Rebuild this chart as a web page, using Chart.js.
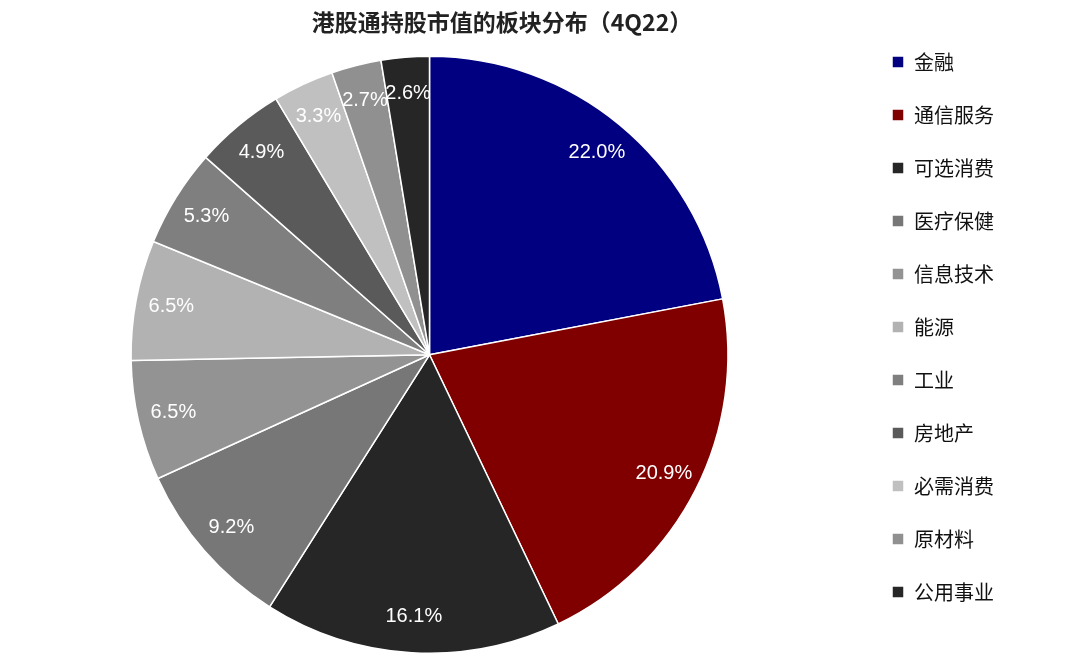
<!DOCTYPE html>
<html><head><meta charset="utf-8">
<script src="https://cdn.jsdelivr.net/npm/chart.js@4/dist/chart.umd.min.js"></script>
<style>html,body{margin:0;background:#fff}#wrap{width:1080px;height:664px}</style>
</head><body><div id="wrap"><canvas id="c" width="1080" height="664"></canvas></div>
<script>
const sectors = ['金融','通信服务','可选消费','医疗保健','信息技术','能源','工业','房地产','必需消费','原材料','公用事业'];
const shares = [22.0, 20.9, 16.1, 9.2, 6.5, 6.5, 5.3, 4.9, 3.3, 2.7, 2.6];
const colors = ['#000080','#800000','#262626','#777777','#939393','#b2b2b2','#7f7f7f','#5a5a5a','#c0c0c0','#909090','#262626'];

// percentage labels drawn inside slices
const sliceLabels = {
  id: 'sliceLabels',
  afterDatasetsDraw(chart) {
    const ctx = chart.ctx;
    ctx.save();
    ctx.font = '20px "Liberation Sans", Arial, sans-serif';
    ctx.fillStyle = '#fff';
    ctx.textAlign = 'center';
    ctx.textBaseline = 'middle';
    chart.getDatasetMeta(0).data.forEach((arc, i) => {
      const mid = (arc.startAngle + arc.endAngle) / 2;
      const r = arc.outerRadius * 0.88;
      ctx.fillText(shares[i].toFixed(1) + '%', arc.x + Math.cos(mid) * r, arc.y + Math.sin(mid) * r);
    });
    ctx.restore();
  }
};

new Chart(document.getElementById('c'), {
  type: 'pie',
  data: { labels: sectors, datasets: [{ data: shares, backgroundColor: colors, borderColor: '#fff', borderWidth: 1.5 }] },
  options: {
    responsive: false, animation: false,
    layout: { padding: { top: 0, bottom: 10, left: 0, right: 76 } },
    plugins: {
      title: { display: true, text: '港股通持股市值的板块分布（4Q22）', color: '#222',
        font: { size: 23, weight: 'bold', family: '"Noto Sans CJK SC", sans-serif' }, padding: { top: 8, bottom: 20 } },
      legend: { position: 'right',
        labels: { color: '#111', boxWidth: 12, boxHeight: 12, padding: 33,
          font: { size: 20, family: '"Noto Sans CJK SC", sans-serif' } } },
      tooltip: { enabled: false }
    }
  },
  plugins: [sliceLabels]
});
</script></body></html>
